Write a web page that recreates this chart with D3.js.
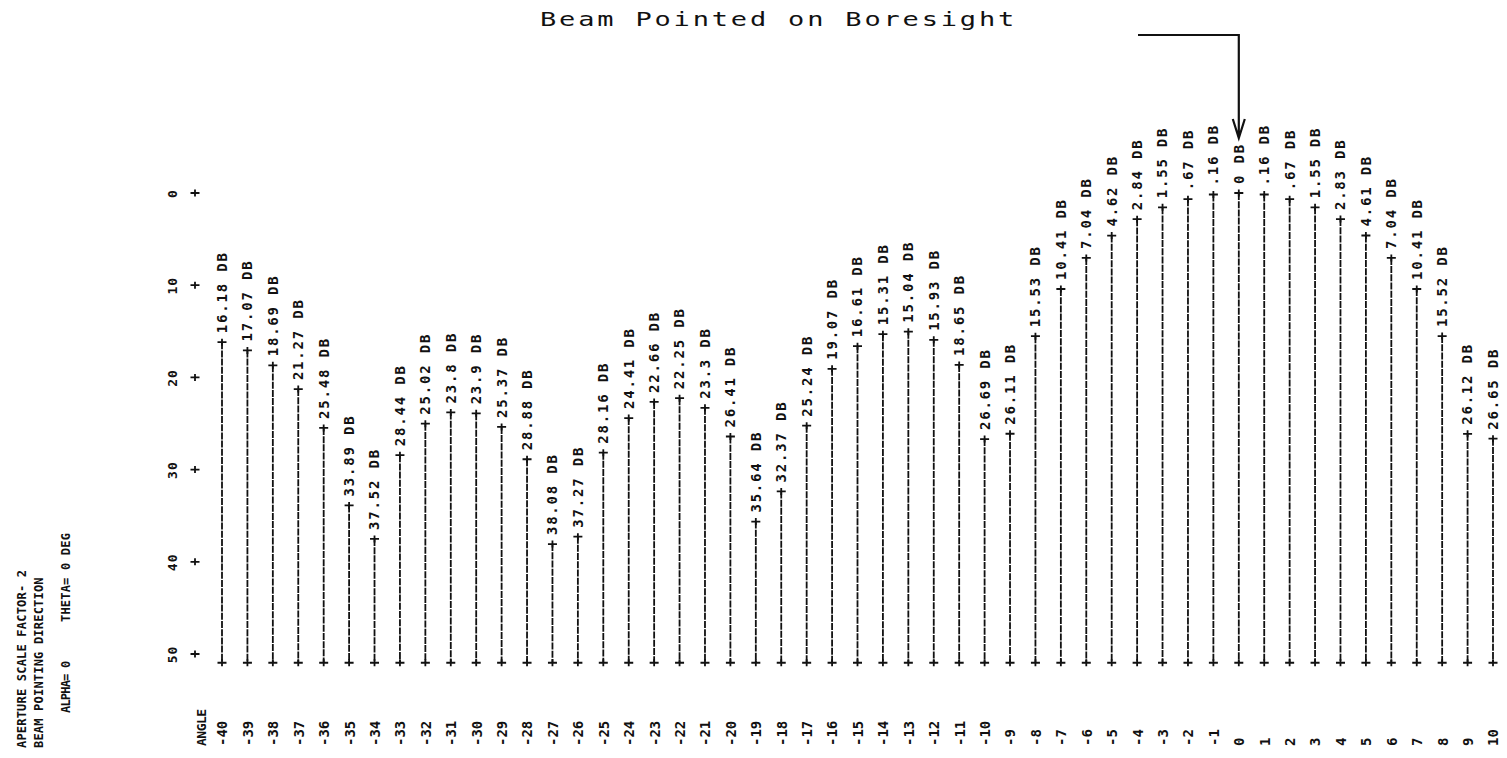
<!DOCTYPE html>
<html>
<head>
<meta charset="utf-8">
<script src="https://cdn.jsdelivr.net/npm/d3@7"></script>
<style>
  html, body { margin: 0; padding: 0; background: #fff; }
  svg { display: block; }
  text { font-family: "DejaVu Sans Mono", "Liberation Mono", monospace; fill: #111; }
</style>
</head>
<body>
<svg id="chart" width="1507" height="758"></svg>
<script>
// Pointing angle of each printed row (degrees)
const angles = [-40, -39, -38, -37, -36, -35, -34, -33, -32, -31, -30,
                -29, -28, -27, -26, -25, -24, -23, -22, -21, -20,
                -19, -18, -17, -16, -15, -14, -13, -12, -11, -10,
                -9, -8, -7, -6, -5, -4, -3, -2, -1, 0,
                1, 2, 3, 4, 5, 6, 7, 8, 9, 10];

// Relative level below the beam peak, in dB
const lossDb = [16.18, 17.07, 18.69, 21.27, 25.48, 33.89, 37.52, 28.44, 25.02, 23.8, 23.9,
                25.37, 28.88, 38.08, 37.27, 28.16, 24.41, 22.66, 22.25, 23.3, 26.41,
                35.64, 32.37, 25.24, 19.07, 16.61, 15.31, 15.04, 15.93, 18.65, 26.69,
                26.11, 15.53, 10.41, 7.04, 4.62, 2.84, 1.55, 0.67, 0.16, 0,
                0.16, 0.67, 1.55, 2.83, 4.61, 7.04, 10.41, 15.52, 26.12, 26.65];

// Level scale ticks (dB)
const dbTicks = [0, 10, 20, 30, 40, 50];
// Every stem is drawn down to the print floor, just past the last tick
const floorDb = 50.95;

const titleText = "Beam Pointed on Boresight";
const axisName = "ANGLE";
const headerLines = ["APERTURE SCALE FACTOR-  2", "BEAM POINTING DIRECTION"];
const alphaText = "ALPHA= 0";
const thetaText = "THETA= 0  DEG";

const svg = d3.select("#chart");

const x = d3.scaleLinear().domain([-40, 10]).range([222, 1493]);
const y = d3.scaleLinear().domain([0, 50]).range([193, 654]);

const cross = (cx, cy, w = 9, h = 7) =>
  `M${cx - w / 2},${cy}H${cx + w / 2}M${cx},${cy - h / 2}V${cy + h / 2}`;

const rows = angles.map((a, i) => ({ angle: a, db: lossDb[i] }));
const fmtDb = v => (v === 0 ? "0" : v < 1 ? String(v).replace(/^0/, "") : String(v)) + " DB";

// Level axis: numbers plus "+" marks
const yAxis = d3.axisLeft(y).tickValues(dbTicks).tickSize(0).tickFormat(d => String(d));
const gy = svg.append("g").attr("transform", "translate(172,0)").call(yAxis);
gy.select(".domain").remove();
gy.selectAll("text")
  .attr("x", 0).attr("y", 0).attr("dy", "0.35em")
  .attr("transform", "rotate(-90)")
  .style("text-anchor", "middle")
  .style("font-size", "13px")
  .style("font-weight", "bold")
  .style("letter-spacing", "1px");
svg.append("g").selectAll("path")
  .data(dbTicks)
  .join("path")
  .attr("d", d => cross(195, y(d)))
  .attr("stroke", "#111").attr("stroke-width", 1.8).attr("fill", "none");

// Stems
const stems = svg.append("g");
stems.selectAll("line")
  .data(rows)
  .join("line")
  .attr("x1", d => x(d.angle)).attr("x2", d => x(d.angle))
  .attr("y1", d => y(d.db)).attr("y2", y(floorDb))
  .attr("stroke", "#111").attr("stroke-width", 1.8)
  .attr("stroke-dasharray", "7,1.2");

// "+" at top and foot of each stem
stems.selectAll("path.top")
  .data(rows)
  .join("path").attr("class", "top")
  .attr("d", d => cross(x(d.angle), y(d.db)))
  .attr("stroke", "#111").attr("stroke-width", 1.8).attr("fill", "none");
stems.selectAll("path.foot")
  .data(rows)
  .join("path").attr("class", "foot")
  .attr("d", d => cross(x(d.angle), y(floorDb)))
  .attr("stroke", "#111").attr("stroke-width", 1.8).attr("fill", "none");

// Level readouts above each stem
svg.append("g").selectAll("text")
  .data(rows)
  .join("text")
  .attr("transform", d => `translate(${x(d.angle)},${y(d.db) - 9}) rotate(-90)`)
  .attr("dy", "0.35em")
  .style("text-anchor", "start")
  .style("font-size", "14px")
  .style("font-weight", "bold")
  .style("letter-spacing", "1.8px")
  .text(d => fmtDb(d.db));

// Angle axis along the bottom
const xAxis = d3.axisBottom(x).tickValues(angles).tickSize(0).tickFormat(d => String(d));
const gx = svg.append("g").attr("transform", "translate(0,746)").call(xAxis);
gx.select(".domain").remove();
gx.selectAll("text")
  .attr("x", 0).attr("y", 0).attr("dy", "0.35em")
  .attr("transform", "rotate(-90)")
  .style("text-anchor", "start")
  .style("font-size", "14px")
  .style("font-weight", "bold")
  .style("letter-spacing", "0px");
svg.append("text")
  .attr("transform", "translate(201,746) rotate(-90)")
  .attr("dy", "0.35em")
  .style("text-anchor", "start")
  .style("font-size", "13px")
  .style("font-weight", "bold")
  .style("letter-spacing", "-0.5px")
  .text(axisName);

// Run header printed down the left margin
const header = svg.append("g")
  .style("font-size", "12px")
  .style("font-weight", "bold")
  .style("letter-spacing", "0.2px")
  .style("white-space", "pre");
header.selectAll("text.hdr")
  .data(headerLines)
  .join("text").attr("class", "hdr")
  .attr("transform", (d, i) => `translate(${22 + i * 17},748) rotate(-90)`)
  .attr("dy", "0.35em")
  .text(d => d);
header.append("text")
  .attr("transform", "translate(66,713) rotate(-90)")
  .attr("dy", "0.35em")
  .style("letter-spacing", "-0.8px")
  .text(alphaText);
header.append("text")
  .attr("transform", "translate(66,622) rotate(-90)")
  .attr("dy", "0.35em")
  .text(thetaText);

// Annotation: title and arrow down to the boresight row
svg.append("text")
  .attr("transform", "translate(540,26) scale(1.35,1)")
  .style("font-size", "20px")
  .style("letter-spacing", "2.1px")
  .text(titleText);
const ax = x(0);
svg.append("path")
  .attr("d", `M1138,35H${ax}V137M${ax - 6},119L${ax},138L${ax + 6},119`)
  .attr("stroke", "#111").attr("stroke-width", 2.2).attr("fill", "none");
</script>
</body>
</html>
